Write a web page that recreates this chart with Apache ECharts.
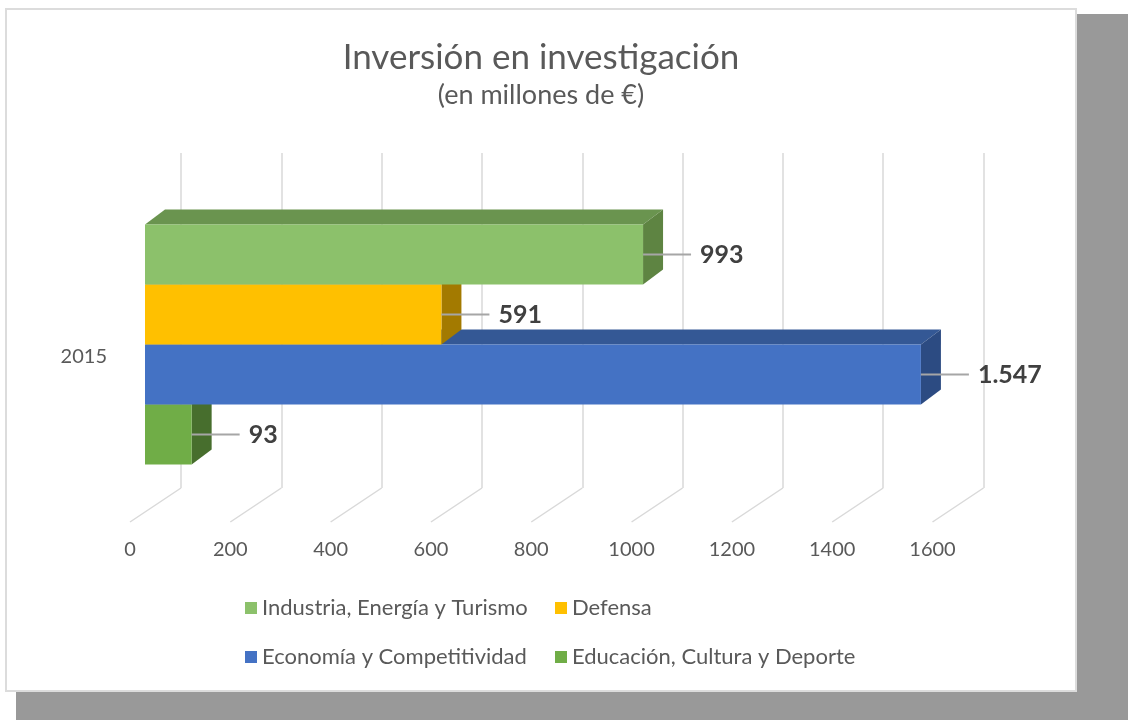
<!DOCTYPE html>
<html>
<head>
<meta charset="utf-8">
<script src="https://cdn.jsdelivr.net/npm/echarts@6/dist/echarts.min.js"></script>
<style>
  html, body { margin: 0; padding: 0; background: #fff; }
  #shadow { position: absolute; left: 16px; top: 14px; width: 1112px; height: 706px; background: #999999; }
  #main { position: absolute; left: 7px; top: 10px; width: 1068px; height: 680px; background: #fff; outline: 2px solid #dcdcdc; }
</style>
</head>
<body>
<div id="shadow"></div>
<div id="main"></div>
<script>
// datos
const categories = ['2015'];
const seriesNames = [
  'Industria, Energía y Turismo',
  'Defensa',
  'Economía y Competitividad',
  'Educación, Cultura y Deporte'
];
const seriesValues = [993, 591, 1547, 93];
const xTicks = [0, 200, 400, 600, 800, 1000, 1200, 1400, 1600];

// colores: cara frontal, cara superior, lateral
const frontColors = ['#8cc16b', '#ffc000', '#4472c4', '#70ad47'];
const topColors = ['#6a944f', '#b38600', '#345895', '#4f7a32'];
const sideColors = ['#5e8442', '#a37a00', '#2c4b82', '#476e2d'];

const FONT = 'Lato, "Open Sans", sans-serif';
const BAR_H = 60;      // alto de cada barra
const DEPTH_X = 20;    // profundidad 3D
const DEPTH_Y = -15;
const FRONT_DX = -36;  // desplazamiento del plano frontal respecto a la pared del fondo
const FRONT_DY = 24;

function fmt(v) {
  return String(v).replace(/\B(?=(\d{3})+(?!\d))/g, '.');
}

function barRenderer(idx) {
  return function (params, api) {
    const v = api.value(0);
    const c0 = api.coord([0, api.value(1)]);
    const c1 = api.coord([v, api.value(1)]);
    const x0 = c0[0] + FRONT_DX;
    const x1 = c1[0] + FRONT_DX;
    const yTop = c0[1] + FRONT_DY - (seriesValues.length * BAR_H) / 2 + idx * BAR_H;
    const yBot = yTop + BAR_H;
    const yMid = (yTop + yBot) / 2;
    return {
      type: 'group',
      children: [
        {
          type: 'polygon',
          shape: { points: [[x0, yTop], [x1, yTop], [x1 + DEPTH_X, yTop + DEPTH_Y], [x0 + DEPTH_X, yTop + DEPTH_Y]] },
          style: { fill: topColors[idx] }
        },
        {
          type: 'polygon',
          shape: { points: [[x1, yTop], [x1 + DEPTH_X, yTop + DEPTH_Y], [x1 + DEPTH_X, yBot + DEPTH_Y], [x1, yBot]] },
          style: { fill: sideColors[idx] }
        },
        {
          type: 'rect',
          shape: { x: x0, y: yTop, width: x1 - x0, height: BAR_H },
          style: { fill: frontColors[idx] }
        },
        {
          type: 'line',
          shape: { x1: x1, y1: yMid, x2: x1 + 48, y2: yMid },
          style: { stroke: '#a6a6a6', lineWidth: 2 }
        },
        {
          type: 'text',
          x: x1 + 57,
          y: yMid,
          style: {
            text: fmt(v),
            fill: '#404040',
            font: 'bold 25px ' + FONT,
            verticalAlign: 'middle',
            align: 'left'
          }
        }
      ]
    };
  };
}

const chart = echarts.init(document.getElementById('main'), null, { renderer: 'canvas' });

const series = seriesNames.map(function (name, i) {
  return {
    name: name,
    type: 'custom',
    z: 10 - i,
    itemStyle: { color: frontColors[i] },
    renderItem: barRenderer(i),
    data: [[seriesValues[i], 0]]
  };
});

// líneas del suelo (perspectiva)
series.push({
  name: 'suelo',
  type: 'custom',
  z: 1,
  silent: true,
  renderItem: function (params, api) {
    const c = api.coord([api.value(0), 0]);
    const bottom = c[1] + api.size([0, 1])[1] / 2;
    return {
      type: 'line',
      shape: { x1: c[0], y1: bottom, x2: c[0] - 51, y2: bottom + 34 },
      style: { stroke: '#d9d9d9', lineWidth: 1.5 }
    };
  },
  data: xTicks.map(function (t) { return [t, 0]; })
});

const legendText = { color: '#595959', fontSize: 22, fontFamily: FONT, lineHeight: 20 };

const option = {
  animation: false,
  title: {
    text: 'Inversión en investigación',
    subtext: '(en millones de €)',
    left: 'center',
    top: 25,
    itemGap: 7,
    textStyle: { color: '#595959', fontSize: 35, fontWeight: 'normal', fontFamily: FONT },
    subtextStyle: { color: '#595959', fontSize: 27, fontFamily: FONT }
  },
  legend: [
    {
      data: [seriesNames[0], seriesNames[2]],
      orient: 'vertical',
      left: 233,
      top: 582,
      itemWidth: 12,
      itemHeight: 12,
      itemGap: 27,
      icon: 'rect',
      selectedMode: false,
      textStyle: legendText
    },
    {
      data: [seriesNames[1], seriesNames[3]],
      orient: 'vertical',
      left: 543,
      top: 582,
      itemWidth: 12,
      itemHeight: 12,
      itemGap: 27,
      icon: 'rect',
      selectedMode: false,
      textStyle: legendText
    }
  ],
  grid: {
    left: 174,
    top: 143,
    width: 802.5,
    height: 335
  },
  xAxis: {
    type: 'value',
    min: 0,
    max: 1600,
    interval: 200,
    axisLine: { show: false },
    axisTick: { show: false },
    splitLine: { lineStyle: { color: '#d9d9d9', width: 1.5 } },
    axisLabel: {
      color: '#595959',
      fontSize: 20,
      fontFamily: FONT,
      margin: 52,
      padding: [0, 102, 0, 0],
      formatter: function (v) { return String(v); }
    }
  },
  yAxis: {
    type: 'category',
    data: categories,
    axisLine: { show: false },
    axisTick: { show: false },
    splitLine: { show: false },
    axisLabel: {
      color: '#595959',
      fontSize: 20,
      fontFamily: FONT,
      margin: 74,
      lineHeight: 73,
      formatter: function (v) { return '\n' + v; }
    }
  },
  series: series
};

chart.setOption(option);
</script>
</body>
</html>
